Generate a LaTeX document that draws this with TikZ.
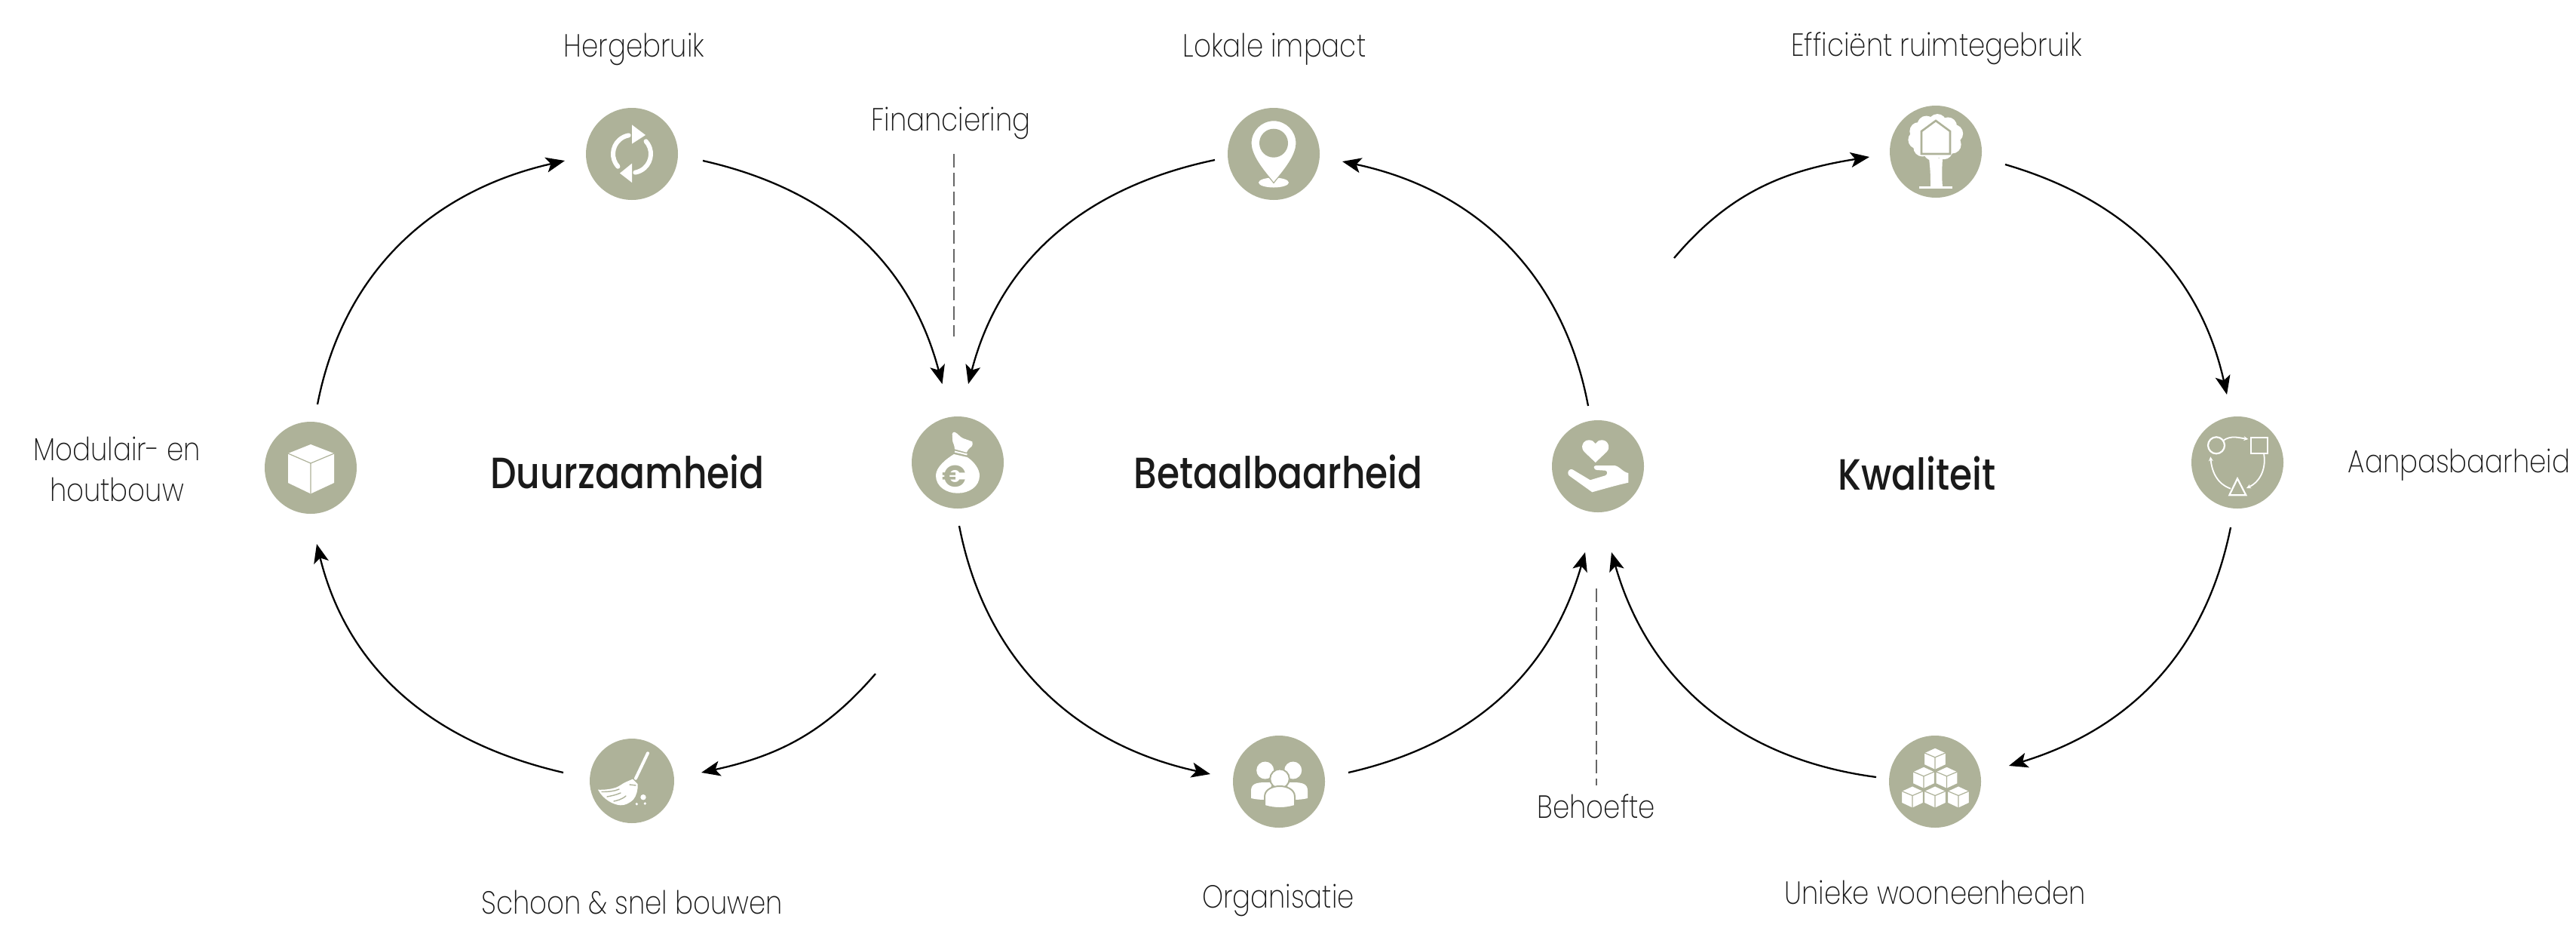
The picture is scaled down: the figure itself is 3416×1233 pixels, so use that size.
\documentclass[tikz,border=0pt]{standalone}
\usepackage{fontspec}
\setmainfont{Poppins}[UprightFont=* ExtraLight,BoldFont=* Medium,FakeStretch=0.84]
\newfontfamily\eurofont{Poppins}[UprightFont=* Bold]
\usetikzlibrary{arrows.meta,calc}
\definecolor{olive}{HTML}{AEB299}
\definecolor{ink}{HTML}{1A1A1A}
\tikzset{
  icon/.style={circle,fill=olive,draw=none,minimum size=61pt,inner sep=0pt},
  arr/.style={draw=black,line width=1.15pt,-{Stealth[length=12.5pt,width=10pt,inset=3pt]}},
  dashline/.style={draw=black!60,line width=0.6pt,dash pattern=on 9pt off 3.6pt},
  lbl/.style={inner sep=0pt,align=center,text=ink,font=\fontsize{21.2}{27}\selectfont},
  ttl/.style={inner sep=0pt,align=center,text=ink,font=\fontsize{29}{32}\selectfont\bfseries},
  wh/.style={fill=white,draw=none},
  wl/.style={draw=white,line cap=round,line join=round},
  ol/.style={draw=olive,line cap=round,line join=round}
}
\newcommand{\cubeat}[2]{%
  \begin{scope}[shift={(#1,#2)}]
    \path[fill=white,draw=olive,line width=0.6pt,line join=round] (0,15)--(14.5,8.3)--(14.5,-7.7)--(0,-14.5)--(-14.5,-7.7)--(-14.5,8.3)--cycle;
    \draw[olive,line width=0.6pt] (-14.5,8.3)--(0,2.2)--(14.5,8.3) (0,2.2)--(0,-14.5);
  \end{scope}}
\begin{document}
\begin{tikzpicture}[x=0.5pt,y=0.5pt]
\useasboundingbox (0,0) rectangle (3416,-1233);
% icon discs
\node[icon] (herge) at (838,-204) {};
\node[icon] (impact) at (1689,-204) {};
\node[icon] (tree) at (2567,-201) {};
\node[icon] (cube) at (412,-620) {};
\node[icon] (bag) at (1270,-613) {};
\node[icon] (hand) at (2119,-618) {};
\node[icon] (aanpas) at (2967,-613) {};
\node[icon,minimum size=56pt] (broom) at (838,-1035) {};
\node[icon] (org) at (1696,-1036) {};
\node[icon] (cubes) at (2566,-1036) {};
% free ends
\coordinate (freeA) at (2220,-342);
\coordinate (freeB) at (1161,-893);
\coordinate (finTop) at (1265,-204);
\coordinate (finEnd) at (1265,-446);
\coordinate (behEnd) at (2117,-780);
\coordinate (behTop) at (2117,-1041);
% connectors
\draw[arr] ($(cube)+(9,84)$) to[out=79,in=192.8] ($(herge)+(-89,-9)$);
\draw[arr] ($(herge)+(94,-9)$) to[out=-12.7,in=104.8] ($(bag)+(-20.5,104)$);
\draw[arr] ($(impact)+(-78,-8)$) to[out=191.8,in=75.5] ($(bag)+(14,104)$);
\draw[arr] ($(hand)+(-13,80)$) to[out=100.6,in=348] ($(impact)+(91,-10)$);
\draw[arr] (freeA) to[out=49.8,in=189] ($(tree)+(-88,-7)$);
\draw[arr] ($(tree)+(92,-17)$) to[out=-16.3,in=102.6] ($(aanpas)+(-14,90)$);
\draw[arr] ($(aanpas)+(-9,-86)$) to[out=-101.4,in=17] ($(cubes)+(98,21)$);
\draw[arr] ($(cubes)+(-78,6)$) to[out=172.5,in=286] ($(hand)+(18,-114)$);
\draw[arr] ($(org)+(92,12)$) to[out=12.8,in=254] ($(hand)+(-17,-114)$);
\draw[arr] ($(bag)+(2,-84)$) to[out=281,in=167.7] ($(org)+(-91,10)$);
\draw[arr] (freeB) to[out=-130.8,in=12.3] ($(broom)+(92,11)$);
\draw[arr] ($(broom)+(-91,11)$) to[out=167,in=283.9] ($(cube)+(8,-101)$);
\draw[dashline] (finTop) -- (finEnd);
\draw[dashline] (behEnd) -- (behTop);
% labels
\node[lbl] (lherge) at (841,-65) {Hergebruik};
\node[lbl] (lfin) at (1261,-163) {Financiering};
\node[lbl] (limpact) at (1690,-65) {Lokale impact};
\node[lbl] (ltree) at (2568,-64) {Efficiënt ruimtegebruik};
\node[lbl] (lcube) at (155,-622) {Modulair- en\\houtbouw};
\node[lbl] (laan) at (3261,-616) {Aanpasbaarheid};
\node[lbl] (lbroom) at (838,-1196) {Schoon \& snel bouwen};
\node[lbl] (lorg) at (1695,-1193) {Organisatie};
\node[lbl] (lbeh) at (2117,-1069) {Behoefte};
\node[lbl] (lcubes) at (2566,-1183) {Unieke wooneenheden};
\node[ttl] (t1) at (832,-625) {Duurzaamheid};
\node[ttl] (t2) at (1695,-625) {Betaalbaarheid};
\node[ttl] (t3) at (2542,-627) {Kwaliteit};
% refresh icon
\begin{scope}[shift={(herge)}]
  \draw[wl,line width=3pt] (222:25) arc[start angle=222,end angle=100,radius=25];
  \draw[wl,line width=3pt] (42:25) arc[start angle=42,end angle=-80,radius=25];
  \fill[white] (0,38.6)--(18,25)--(0,13.4)--cycle;
  \fill[white] (0,-38)--(-16,-25.6)--(0,-12.6)--cycle;
\end{scope}
% pin icon
\begin{scope}[shift={(impact)}]
  \fill[white] (0,-38) ellipse[x radius=20,y radius=6.5];
  \path[wh,draw=olive,line width=0.6pt] (-30,14.3) arc[start angle=180,end angle=0,radius=30] .. controls (30,-5) and (8,-28) .. (0,-38.5) .. controls (-8,-28) and (-30,-5) .. cycle;
  \fill[olive] (0,14.3) circle[radius=19];
\end{scope}
% tree icon
\begin{scope}[shift={(tree)}]
  \fill[white] (0,19) ellipse[x radius=30,y radius=26];
  \foreach \a in {15,50,...,360} {\fill[white] ($(0,19)+(\a:25 and 19)$) circle[radius=12];}
  \fill[white] (-9,-9) .. controls (-7,-25) and (-7,-35) .. (-7,-47) -- (9,-47) .. controls (8,-35) and (8,-25) .. (9,-9) -- cycle;
  \fill[white] (-22,-46) rectangle (22,-49);
  \draw[olive,line width=1.3pt,line join=miter] (-19,-3)--(-19,27)--(0,41)--(19,27)--(19,-3)--cycle;
\end{scope}
% adaptability icon
\begin{scope}[shift={(aanpas)}]
  \draw[white,line width=1.1pt] (-28,22.7) circle[radius=11];
  \draw[white,line width=1.1pt] (17.7,33.3) rectangle (40,12);
  \draw[white,line width=1.1pt,line join=miter] (0,-21.3)--(-10.7,-43.3)--(11.3,-43.3)--cycle;
  \draw[white,line width=0.9pt,-{Stealth[length=3pt,width=3pt]}] (-19,29) to[out=35,in=172] (14.3,31);
  \draw[white,line width=0.9pt,-{Stealth[length=3pt,width=3pt]}] (35,12) to[out=-80,in=25] (12,-34);
  \draw[white,line width=0.9pt,-{Stealth[length=3pt,width=3pt]}] (-9,-34.7) to[out=160,in=-85] (-35.7,7.7);
\end{scope}
% stacked cubes icon
\begin{scope}[shift={(cubes)}]
  \cubeat{0}{30}
  \cubeat{-15}{5}
  \cubeat{15.5}{5}
  \cubeat{-30}{-20.7}
  \cubeat{0}{-20.7}
  \cubeat{31}{-20.7}
\end{scope}
% people icon
\begin{scope}[shift={(org)}]
  \fill[white] (-37,-22) -- (-37,-12) .. controls (-37,-3) and (-30,-1) .. (-18,-1) -- (-8,-1) -- (-18,-24) .. controls (-25,-24) and (-31,-23.5) .. (-37,-22) -- cycle;
  \fill[white] (38,-22) -- (38,-12) .. controls (38,-3) and (31,-1) .. (19,-1) -- (9,-1) -- (19,-24) .. controls (26,-24) and (32,-23.5) .. (38,-22) -- cycle;
  \fill[white] (-18.3,15) circle[radius=11.5];
  \fill[white] (18.7,15) circle[radius=11.5];
  \path[wh,draw=olive,line width=1pt] (1,3.7) circle[radius=12.8];
  \path[wh,draw=olive,line width=1pt] (-19,-32) -- (-19,-20) .. controls (-19,-10) and (-8,-6) .. (1,-6) .. controls (10,-6) and (21,-10) .. (21,-20) -- (21,-32) .. controls (8,-36) and (-6,-36) .. (-19,-32) -- cycle;
\end{scope}
% hand with heart icon
\begin{scope}[shift={(hand)}]
  \fill[white] (-3.3,5) -- (-18,19) .. controls (-24,25) and (-20,34.7) .. (-12,34.7) .. controls (-8,34.7) and (-5,33) .. (-3.3,30) .. controls (-1.5,33) and (1.5,34.7) .. (5.5,34.7) .. controls (13,34.7) and (17.5,25) .. (11.5,19) -- cycle;
  \fill[white] (40.3,-9) .. controls (33,-8) and (28,1) .. (21.3,1) -- (-2.7,1) .. controls (-5,1) and (-5.5,-1) .. (-5.3,-1.7) .. controls (-5,-4) and (-3,-5) .. (-1.3,-5) -- (9.7,-5.7) .. controls (13,-6) and (13,-11) .. (9.7,-12.3) -- (-10.3,-18.3) -- (-33.7,-4.3) .. controls (-37,-3) and (-40,-6) .. (-39.7,-9) .. controls (-40,-11) and (-38.5,-12.5) .. (-37,-13.3) -- (-7.7,-34.3) .. controls (8,-30) and (25,-25) .. (40.3,-21.7) -- cycle;
\end{scope}
% money bag icon
\begin{scope}[shift={(bag)}]
  \fill[white] (-7.3,37.7) .. controls (-7,40) and (-5.5,40.5) .. (-4,40.3) .. controls (1,38) and (3,33.5) .. (7.3,32) -- (19.3,27.7) .. controls (20,24) and (19.5,22) .. (18.3,21) .. controls (15,19) and (13,16) .. (11.7,13.3) -- (-4,17.7) .. controls (-4,22) and (-6.5,27) .. (-6.7,27.7) -- cycle;
  \draw[white,line width=1pt] (-4,14.5)--(12.5,10.5);
  \fill[white] (-5,11) -- (12.7,7) .. controls (22,1) and (29,-9) .. (29,-17.3) .. controls (29,-32) and (15,-40.7) .. (0,-40.7) .. controls (-15,-40.7) and (-29,-32) .. (-29,-17.3) .. controls (-29,-6) and (-15,5) .. (-5,11) -- cycle;
  \node[inner sep=0pt,text=olive,font=\fontsize{20}{20}\selectfont\eurofont] (euro) at (-5,-18) {€};
\end{scope}
% single cube icon
\begin{scope}[shift={(cube)}]
  \fill[white] (0,31)--(31,19)--(31,-20)--(0,-34.4)--(-30,-20)--(-30,19)--cycle;
  \draw[olive,line width=0.6pt] (-30,19)--(0,6)--(31,19) (0,6)--(0,-34.4);
\end{scope}
% broom icon
\begin{scope}[shift={(broom)}]
  \draw[wl,line width=2pt] (21,36.7)--(5,3.3);
  \fill[white] (1,2.3) -- (7.7,-4.3) .. controls (8,-12) and (6,-20) .. (1.7,-25) .. controls (-4,-30) and (-9,-32.3) .. (-15,-32.3) .. controls (-24,-32) and (-38,-25) .. (-45,-11.7) .. controls (-36,-12) and (-28,-11) .. (-21.7,-9) .. controls (-16,-7) and (-12,-3) .. (-8.3,-1.7) .. controls (-5,0) and (-2,1) .. (1,2.3) -- cycle;
  \draw[ol,line width=0.7pt] (-40,-14.5) .. controls (-32,-14.5) and (-24,-14) .. (-17,-11);
  \draw[ol,line width=0.7pt] (-33,-21) .. controls (-28,-20) and (-22,-19) .. (-15,-16);
  \draw[ol,line width=0.7pt] (-24,-27) .. controls (-20,-26) and (-14,-25) .. (-8,-20);
  \draw[ol,line width=0.7pt] (-3,-5) .. controls (0,-5) and (3,-6) .. (5,-6);
  \fill[white] (15,-21.7) circle[radius=3.7];
  \fill[white] (6.3,-30.7) circle[radius=1.8];
  \fill[white] (17.3,-30) circle[radius=1.8];
\end{scope}
\end{tikzpicture}
\end{document}
